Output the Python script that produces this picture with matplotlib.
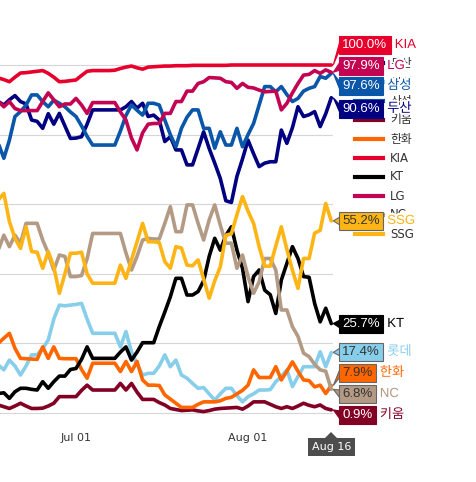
import numpy as np
import matplotlib
matplotlib.use("Agg")
import matplotlib.pyplot as plt
from matplotlib.lines import Line2D
from matplotlib.patches import Polygon
import matplotlib.patheffects as pe

W, H = 476, 482

# daily values, Jun 17 .. Aug 16
days = np.arange(61)
tick_days = [14, 45]
tick_labels = ["Jul 01", "Aug 01"]

kia = [96.3, 95.8, 95.2, 96.5, 97.7, 97.8, 98.0, 98.2, 98.4, 97.6,
       96.5, 95.2, 95.3, 95.5, 95.7, 97.0, 98.2, 98.4, 98.4, 98.4,
       98.4, 98.5, 99.0, 99.4, 99.7, 99.2, 98.8, 99.4, 99.5, 99.6,
       99.7, 99.7, 99.8, 99.8, 99.8, 99.9, 99.9, 99.9, 99.9, 99.9,
       99.9, 99.9, 100, 100, 100, 100, 100, 100, 100, 100,
       100, 100, 100, 100, 100, 100, 100, 100, 100, 100, 100.0]
lg = [89.5, 88.0, 89.5, 87.5, 86.9, 86.9, 86.9, 86.9, 89.5, 92.0,
      90.0, 88.0, 88.8, 88.8, 90.4, 88.5, 86.1, 89.2, 89.2, 89.2,
      89.2, 89.2, 86.5, 84.2, 79.0, 75.6, 80.5, 83.0, 83.2, 83.2,
      86.1, 86.1, 89.5, 89.5, 92.5, 92.5, 94.7, 95.2, 96.4, 96.3,
      96.2, 95.2, 95.0, 93.3, 94.7, 93.6, 93.4, 92.8, 92.3, 92.4,
      92.5, 87.1, 89.0, 92.0, 94.7, 97.1, 97.3, 98.4, 97.6, 98.6, 97.9]
samsung = [77.5, 73.2, 78.4, 85.2, 86.6, 88.5, 91.4, 91.4, 89.5, 88.0,
           89.9, 89.0, 88.0, 86.5, 85.2, 82.5, 79.5, 77.0, 77.0, 77.0,
           77.0, 77.0, 81.0, 85.5, 88.5, 87.0, 85.6, 89.0, 89.0, 88.5,
           84.2, 80.0, 76.5, 81.8, 85.0, 87.1, 87.1, 81.8, 81.8, 76.1,
           80.8, 77.0, 77.0, 81.8, 76.5, 80.0, 83.2, 88.5, 93.8, 93.8,
           92.3, 93.8, 91.5, 89.5, 90.4, 92.5, 93.3, 93.8, 96.7, 96.2, 97.6]
doosan = [89.5, 88.5, 90.0, 91.2, 89.5, 88.8, 84.2, 83.8, 81.8, 86.0,
          83.0, 86.1, 82.5, 78.9, 79.0, 79.4, 83.0, 87.1, 87.1, 87.1,
          87.1, 87.1, 87.1, 88.0, 89.5, 87.6, 89.0, 85.2, 85.6, 84.2,
          78.0, 79.4, 75.6, 75.6, 71.3, 71.3, 76.0, 80.8, 76.0, 71.8,
          67.4, 61.0, 60.5, 68.0, 73.0, 78.4, 74.5, 70.8, 71.8, 72.2,
          72.2, 81.3, 77.5, 82.0, 88.0, 85.2, 85.7, 86.6, 82.3, 86.0, 90.6]
ssg = [61.2, 63.1, 55.0, 50.2, 47.3, 53.5, 46.4, 46.2, 41.6, 46.4,
       42.0, 34.4, 40.0, 45.9, 45.9, 46.2, 40.0, 37.3, 37.3, 37.3,
       37.3, 37.3, 42.5, 38.7, 44.0, 49.2, 54.5, 49.2, 49.2, 49.0,
       43.5, 41.6, 47.8, 47.4, 42.5, 42.3, 44.0, 38.5, 33.0, 38.0,
       42.0, 51.1, 51.5, 57.0, 62.2, 58.0, 54.5, 47.8, 42.2, 42.2,
       48.0, 53.5, 47.0, 41.0, 35.8, 44.4, 44.4, 51.7, 52.5, 60.2, 55.2]
nc = [46.8, 51.1, 47.8, 51.1, 48.8, 54.5, 54.5, 54.5, 49.7, 45.9,
      41.1, 45.4, 45.0, 39.2, 39.2, 39.5, 44.3, 51.6, 51.6, 51.6,
      51.6, 51.6, 51.6, 46.0, 41.1, 45.0, 49.7, 50.2, 50.0, 50.0,
      54.5, 59.3, 52.1, 52.1, 59.8, 59.8, 54.5, 49.7, 55.5, 59.8,
      54.0, 48.8, 48.8, 41.6, 45.4, 39.2, 34.4, 37.7, 44.4, 44.4,
      41.1, 29.6, 29.6, 24.8, 22.0, 17.2, 16.2, 14.0, 12.4, 12.0, 6.8]
kt = [5.6, 5.8, 4.2, 6.1, 7.1, 7.1, 6.8, 6.6, 9.0, 7.1,
      9.0, 10.6, 10.6, 12.5, 12.8, 15.4, 19.0, 15.7, 15.7, 15.7,
      15.7, 15.7, 17.5, 19.0, 15.2, 17.5, 20.2, 20.2, 20.2, 24.8,
      29.0, 33.4, 38.7, 38.7, 33.9, 33.9, 34.9, 38.0, 45.0, 50.2,
      46.8, 51.0, 53.5, 46.8, 41.6, 32.0, 39.2, 41.1, 35.3, 34.0,
      28.6, 38.2, 43.0, 47.8, 44.4, 39.2, 39.0, 31.5, 26.2, 30.1, 25.7]
lotte = [13.8, 12.4, 15.2, 13.5, 10.9, 13.5, 16.7, 16.7, 18.5, 21.0,
         27.0, 31.0, 30.8, 31.0, 31.2, 31.5, 27.0, 22.9, 22.9, 22.9,
         22.9, 22.9, 19.0, 23.4, 17.6, 14.0, 10.9, 11.4, 11.4, 13.5,
         16.7, 13.3, 15.2, 10.9, 10.0, 8.5, 7.1, 7.3, 5.5, 3.7,
         5.5, 7.1, 7.1, 5.0, 3.2, 4.7, 5.5, 6.6, 6.6, 6.7,
         9.0, 10.5, 12.4, 7.6, 10.5, 13.3, 13.3, 13.3, 17.6, 13.3, 17.4]
hanwha = [20.0, 21.5, 22.9, 18.6, 15.7, 15.6, 15.5, 15.4, 19.0, 15.7,
          19.0, 15.7, 15.6, 15.6, 15.6, 12.5, 10.0, 14.3, 14.3, 14.3,
          14.3, 14.3, 11.9, 14.8, 11.9, 14.8, 9.5, 8.0, 8.0, 7.9,
          5.2, 4.0, 2.8, 1.6, 1.6, 1.6, 2.5, 3.2, 3.2, 3.2,
          3.5, 4.2, 4.5, 5.5, 6.5, 8.0, 12.4, 10.2, 10.2, 10.2,
          13.3, 9.5, 12.0, 14.7, 12.0, 9.5, 9.3, 7.5, 8.0, 5.6, 7.9]
kiwoom = [2.3, 1.8, 1.3, 2.0, 2.8, 2.0, 1.3, 1.3, 1.4, 2.0,
          2.8, 4.7, 4.7, 4.7, 4.7, 6.5, 8.0, 6.6, 6.6, 6.6,
          6.6, 6.6, 8.5, 6.6, 8.5, 6.0, 3.9, 3.9, 3.9, 3.0,
          2.3, 1.3, 1.0, 0.7, 0.8, 0.9, 0.6, 0.4, 0.7, 1.1,
          1.3, 1.4, 1.5, 1.6, 1.1, 2.0, 3.2, 3.2, 3.2, 2.5,
          1.8, 1.3, 1.8, 1.3, 2.0, 2.8, 2.2, 1.8, 2.3, 1.3, 0.9]

teams = ["두산", "롯데", "삼성", "키움", "한화", "KIA", "KT", "LG", "NC", "SSG"]
series = {"두산": doosan, "롯데": lotte, "삼성": samsung, "키움": kiwoom,
          "한화": hanwha, "KIA": kia, "KT": kt, "LG": lg, "NC": nc, "SSG": ssg}
colors = {"두산": "#000080", "롯데": "#87CEEB", "삼성": "#0A56A8", "키움": "#820024",
          "한화": "#FF6600", "KIA": "#E8002D", "KT": "#000000", "LG": "#C30452",
          "NC": "#B39A84", "SSG": "#FDB515"}
light = {"롯데", "한화", "NC", "SSG"}

# end labels, top to bottom, with their vertical slot (px from top)
label_order = ["KIA", "LG", "삼성", "두산", "SSG", "KT", "롯데", "한화", "NC", "키움"]
label_y = [45, 66, 86, 109, 221, 324, 352, 373, 394, 415]

fam = ["Liberation Sans", "Noto Sans CJK KR"]
fam2 = ["DejaVu Sans", "Noto Sans CJK KR"]


def fx(x):
    return x / W


def fy(y):
    return 1 - y / H


fig = plt.figure(figsize=(W / 100, H / 100), dpi=100)
ax = fig.add_axes([0, 1 - 425 / H, 333 / W, 395 / H])

for t in teams:
    ax.plot(days, series[t], color=colors[t], lw=2.6,
            solid_joinstyle="round", solid_capstyle="round")

ax.set_xlim(0.306, 60.31)
ax.set_ylim(-3.45, 110.06)
ax.set_yticks(range(0, 101, 20))
ax.yaxis.grid(True, color="#d6d6d6", lw=0.8)
ax.set_axisbelow(True)
ax.tick_params(axis="y", left=False, labelleft=False)
ax.set_xticks(tick_days, tick_labels)
ax.tick_params(axis="x", length=0, pad=6, labelsize=8, labelcolor="#333333")
for s in ax.spines.values():
    s.set_visible(False)

# legend (partly hidden behind the end labels)
for i, t in enumerate(teams):
    y = 63 + 19 * i
    fig.add_artist(Line2D([fx(355), fx(383)], [fy(y), fy(y)], color=colors[t],
                          lw=3, zorder=1))
    fig.text(fx(390), fy(y), t, color="#333333", fontsize=8.5, family=fam2,
             va="center", ha="left", zorder=1)

# end labels
boxes = []
for t, y in zip(label_order, label_y):
    val = series[t][-1]
    txt = fig.text(fx(342.3), fy(y), f"{val:.1f}%", fontsize=9.5, family=fam,
                   color="#333333" if t in light else "white",
                   va="center", ha="left", zorder=6,
                   bbox=dict(boxstyle="square,pad=0.25", fc=colors[t],
                             ec="#666666" if t in light else colors[t], lw=0.8))
    boxes.append((t, y, txt))

fig.canvas.draw()
r = fig.canvas.get_renderer()
for t, y, txt in boxes:
    bb = txt.get_bbox_patch().get_window_extent(r)
    ax_pt = ax.transData.transform((days[-1], series[t][-1]))
    yc = H - y
    tri = Polygon([(bb.x0 + 1, yc + 4), (ax_pt[0] + 2, ax_pt[1]), (bb.x0 + 1, yc - 4)],
                  closed=True, transform=None, fc=colors[t],
                  ec="#666666" if t in light else colors[t], lw=0.8, zorder=5)
    fig.add_artist(tri)
    fig.text((bb.x1 + 4) / W, fy(y), t, fontsize=9.5, family=fam, color=colors[t],
             va="center", ha="left", zorder=6,
             path_effects=[pe.withStroke(linewidth=3, foreground="white")])

# hover tooltip on the last date
fig.add_artist(Polygon([(fx(325), fy(438)), (fx(331), fy(432)), (fx(337), fy(438))],
                       closed=True, fc="#4d4d4d", ec="none", zorder=6))
fig.text(fx(331.5), fy(447), "Aug 16", fontsize=8, family=fam2, color="white",
         ha="center", va="center", zorder=7,
         bbox=dict(boxstyle="square,pad=0.35", fc="#4d4d4d", ec="none"))

fig.savefig("out.png", dpi=100)
